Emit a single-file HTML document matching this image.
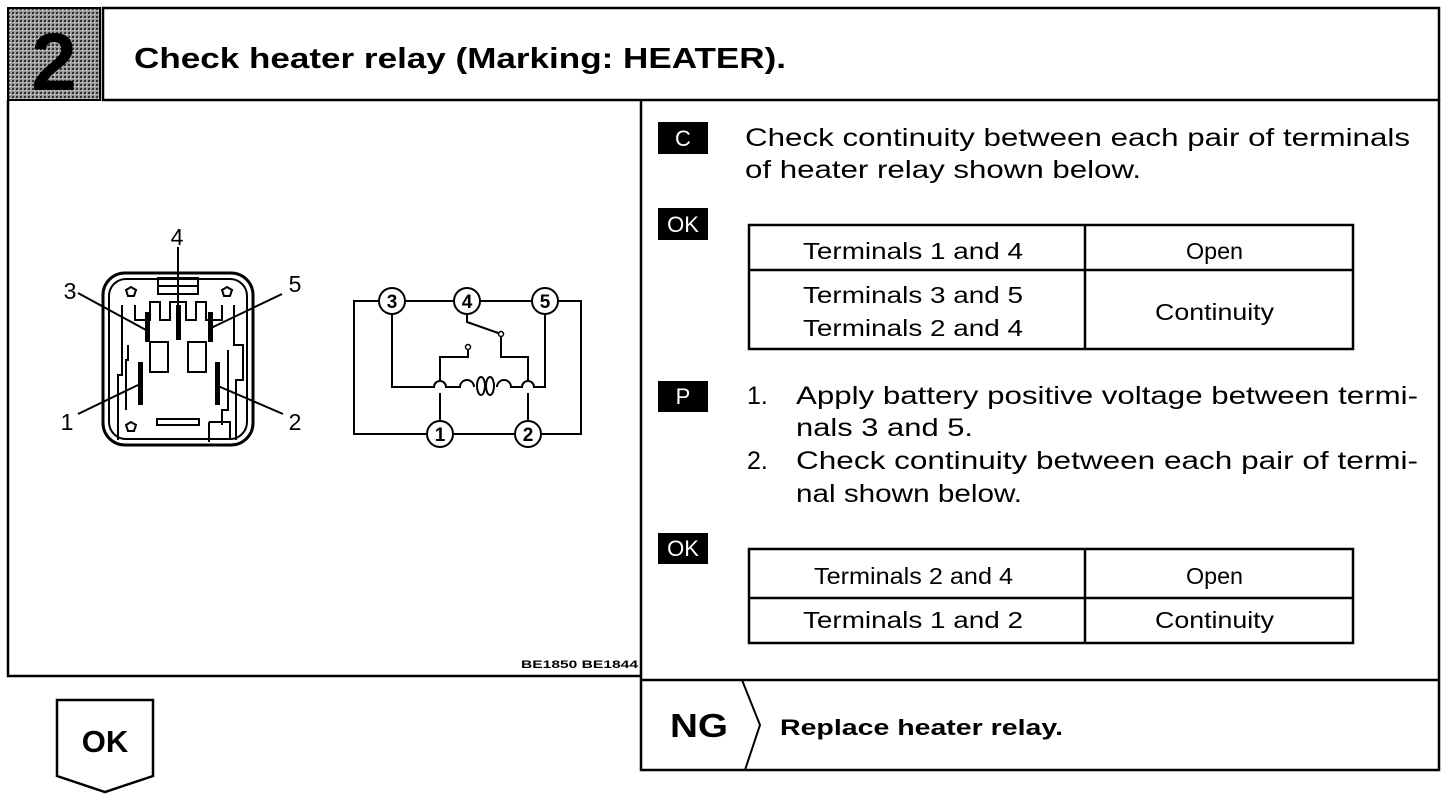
<!DOCTYPE html>
<html><head><meta charset="utf-8"><style>
html,body{margin:0;padding:0;background:#fff;}
svg{display:block;}
text{font-family:"Liberation Sans",sans-serif;fill:#000;}
</style></head><body>
<svg width="1456" height="800" viewBox="0 0 1456 800" xmlns="http://www.w3.org/2000/svg">
<defs>
<pattern id="dots" width="4" height="4" patternUnits="userSpaceOnUse">
<rect width="4" height="4" fill="#9a9a9a"/>
<rect x="0" y="0" width="2" height="2" fill="#333"/>
<rect x="2" y="2" width="1" height="1" fill="#eee"/>
</pattern>
</defs>
<!-- header -->
<rect x="8" y="8" width="92" height="92" fill="url(#dots)" stroke="#000" stroke-width="2"/>
<text x="54" y="90" font-size="82" font-weight="bold" text-anchor="middle">2</text>
<rect x="103" y="8" width="1336" height="92" fill="none" stroke="#000" stroke-width="2.5"/>
<text x="134" y="68" font-size="29" font-weight="bold" textLength="652" lengthAdjust="spacingAndGlyphs">Check heater relay (Marking:  HEATER).</text>

<!-- main frame -->
<path d="M8 100 V676 H641" fill="none" stroke="#000" stroke-width="2.5"/>
<path d="M641 100 V770 H1439 V100" fill="none" stroke="#000" stroke-width="2.5"/>
<line x1="641" y1="680" x2="1439" y2="680" stroke="#000" stroke-width="2.5"/>
<text x="638" y="668" font-size="11" font-weight="bold" text-anchor="end" textLength="117" lengthAdjust="spacingAndGlyphs">BE1850  BE1844</text>

<!-- connector drawing -->
<g fill="none" stroke="#000" stroke-width="2">
<rect x="103" y="273" width="150" height="172" rx="22" stroke-width="3"/>
<rect x="109" y="279" width="138" height="160" rx="17" stroke-width="2"/>
<rect x="158" y="278" width="40" height="16" stroke-width="2"/>
<line x1="158" y1="286" x2="198" y2="286" stroke-width="2"/>
<path d="M122 305 V375 H118 V440 M135 305 V320 H150 V302 H160 V320 H170 V302 H186 V320 H196 V302 H206 V320 H222 V305 M234 305 V345 H243 V380 H236 V440" stroke-width="2"/>
<path d="M150 342 H168 V372 H150 Z M188 342 H206 V372 H188 Z" stroke-width="2"/>
<path d="M128 345 V360 H126 V410 M228 350 V410 H222 V425" stroke-width="2"/>
<path d="M126 290 l5 -3 l5 3 l-2 6 h-6 Z M222 290 l5 -3 l5 3 l-2 6 h-6 Z M126 425 l5 -3 l5 3 l-2 6 h-6 Z" stroke-width="2"/>
<rect x="157" y="419" width="42" height="6" stroke-width="2"/>
<path d="M209 422 H230 V440 M209 422 V442" stroke-width="2"/>
</g>
<g fill="#000">
<rect x="145" y="312" width="5" height="30"/>
<rect x="176" y="305" width="5" height="35"/>
<rect x="208" y="312" width="5" height="30"/>
<rect x="138" y="362" width="5" height="43"/>
<rect x="215" y="362" width="5" height="43"/>
</g>
<g stroke="#000" stroke-width="2">
<line x1="78" y1="293" x2="146" y2="330"/>
<line x1="282" y1="294" x2="211" y2="328"/>
<line x1="178" y1="247" x2="178" y2="325"/>
<line x1="78" y1="414" x2="138" y2="385"/>
<line x1="283" y1="414" x2="218" y2="386"/>
</g>
<g font-size="23">
<text x="70" y="299" text-anchor="middle">3</text>
<text x="177" y="245" text-anchor="middle">4</text>
<text x="295" y="292" text-anchor="middle">5</text>
<text x="67" y="430" text-anchor="middle">1</text>
<text x="295" y="430" text-anchor="middle">2</text>
</g>

<!-- schematic -->
<g fill="none" stroke="#000" stroke-width="2">
<rect x="354" y="301" width="227" height="133"/>
<path d="M392 314 V387 H434 a6 6 0 0 1 12 0 H460 a7 7 0 0 1 14 0"/>
<ellipse cx="481" cy="386" rx="4" ry="9"/>
<ellipse cx="490" cy="386" rx="4" ry="9"/>
<path d="M497 387 a7 7 0 0 1 14 0 H522 a6 6 0 0 1 12 0 H545 V314"/>
<path d="M440 421 V393 M440 381 V357 H468 V349"/>
<path d="M528 421 V393 M528 381 V357 H501 V336"/>
<path d="M467 314 V322 L501 334"/>
</g>
<circle cx="468" cy="347" r="2.5" fill="#fff" stroke="#000" stroke-width="1.5"/>
<circle cx="501" cy="334" r="2.5" fill="#fff" stroke="#000" stroke-width="1.5"/>
<g fill="#fff" stroke="#000" stroke-width="2">
<circle cx="392" cy="301" r="13"/><circle cx="467" cy="301" r="13"/><circle cx="545" cy="301" r="13"/>
<circle cx="440" cy="434" r="13"/><circle cx="528" cy="434" r="13"/>
</g>
<g font-size="19" font-weight="bold" text-anchor="middle">
<text x="392" y="308">3</text><text x="467" y="308">4</text><text x="545" y="308">5</text>
<text x="440" y="441">1</text><text x="528" y="441">2</text>
</g>

<!-- right panel -->
<g fill="#000">
<rect x="658" y="122" width="50" height="32"/>
<rect x="658" y="208" width="50" height="32"/>
<rect x="658" y="381" width="50" height="31"/>
<rect x="658" y="533" width="50" height="31"/>
</g>
<g font-size="22" text-anchor="middle">
<text x="683" y="146" style="fill:#fff">C</text>
<text x="683" y="232" style="fill:#fff">OK</text>
<text x="683" y="404" style="fill:#fff">P</text>
<text x="683" y="556" style="fill:#fff">OK</text>
</g>
<g font-size="25">
<text x="745" y="146" textLength="665" lengthAdjust="spacingAndGlyphs">Check continuity between each pair of terminals</text>
<text x="745" y="178" textLength="396" lengthAdjust="spacingAndGlyphs">of heater relay shown below.</text>
<text x="747" y="404">1.</text>
<text x="796" y="404" textLength="622" lengthAdjust="spacingAndGlyphs">Apply battery positive voltage between termi-</text>
<text x="796" y="436" textLength="177" lengthAdjust="spacingAndGlyphs">nals 3 and 5.</text>
<text x="747" y="469">2.</text>
<text x="796" y="469" textLength="622" lengthAdjust="spacingAndGlyphs">Check continuity between each pair of termi-</text>
<text x="796" y="502" textLength="226" lengthAdjust="spacingAndGlyphs">nal shown below.</text>
</g>
<g fill="none" stroke="#000" stroke-width="2.5">
<rect x="749" y="225" width="604" height="124"/>
<line x1="1085" y1="225" x2="1085" y2="349"/>
<line x1="749" y1="270" x2="1353" y2="270"/>
<rect x="749" y="549" width="604" height="94"/>
<line x1="1085" y1="549" x2="1085" y2="643"/>
<line x1="749" y1="598" x2="1353" y2="598"/>
</g>
<g font-size="23">
<text x="803" y="259" textLength="220" lengthAdjust="spacingAndGlyphs">Terminals 1 and 4</text>
<text x="1186" y="259" textLength="57" lengthAdjust="spacingAndGlyphs">Open</text>
<text x="803" y="303" textLength="220" lengthAdjust="spacingAndGlyphs">Terminals 3 and 5</text>
<text x="803" y="336" textLength="220" lengthAdjust="spacingAndGlyphs">Terminals 2 and 4</text>
<text x="1155" y="320" textLength="119" lengthAdjust="spacingAndGlyphs">Continuity</text>
<text x="814" y="584" textLength="199" lengthAdjust="spacingAndGlyphs">Terminals 2 and 4</text>
<text x="1186" y="584" textLength="57" lengthAdjust="spacingAndGlyphs">Open</text>
<text x="803" y="628" textLength="220" lengthAdjust="spacingAndGlyphs">Terminals 1 and 2</text>
<text x="1155" y="628" textLength="119" lengthAdjust="spacingAndGlyphs">Continuity</text>
</g>

<!-- NG -->
<path d="M742 680 L760 725 L745 770" fill="none" stroke="#000" stroke-width="2"/>
<text x="670" y="737" font-size="33" font-weight="bold" textLength="58" lengthAdjust="spacingAndGlyphs">NG</text>
<text x="780" y="735" font-size="22" font-weight="bold" textLength="283" lengthAdjust="spacingAndGlyphs">Replace heater relay.</text>

<!-- OK arrow -->
<path d="M57 700 H153 V776 L105 792 L57 776 Z" fill="#fff" stroke="#000" stroke-width="2.5"/>
<text x="105" y="752" font-size="31" font-weight="bold" text-anchor="middle">OK</text>
</svg>
</body></html>
